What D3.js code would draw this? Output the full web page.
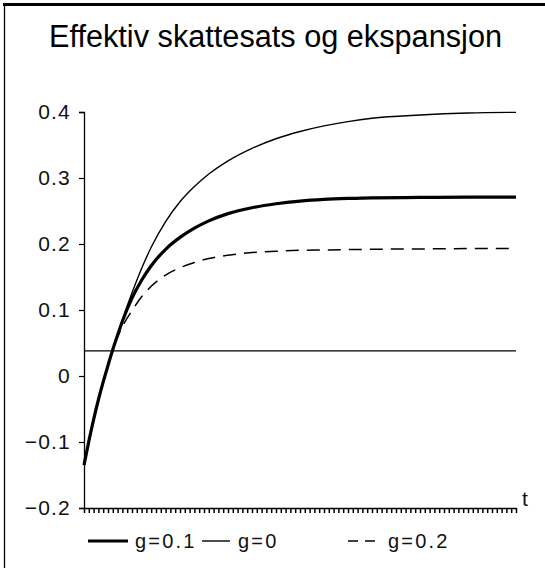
<!DOCTYPE html>
<html><head><meta charset="utf-8">
<script src="https://cdn.jsdelivr.net/npm/d3@7"></script>
<style>
html,body{margin:0;padding:0;background:#fff;}
svg{display:block;}
</style></head>
<body>
<script>
// ---- data ----
const title = "Effektiv skattesats og ekspansjon";
const tValues = [0,1,2,3,4,5,6,7,8,10,12,14,17,20,23,26,30,35,40,45,50,55,60,70,80,90];
const g0   = [-0.135,-0.099,-0.066,-0.036,-0.009,0.016,0.040,0.063,0.085,0.126,0.163,0.195,0.234,0.264,0.287,0.306,0.326,0.345,0.3595,0.3705,0.379,0.3855,0.3905,0.3955,0.3985,0.3995];
const g01  = [-0.135,-0.099,-0.066,-0.036,-0.009,0.016,0.040,0.062,0.083,0.118,0.145,0.167,0.192,0.210,0.224,0.235,0.246,0.255,0.261,0.265,0.2675,0.269,0.270,0.2705,0.271,0.271];
const g02  = [-0.135,-0.099,-0.066,-0.036,-0.009,0.016,0.040,0.059,0.075,0.099,0.120,0.136,0.153,0.164,0.172,0.178,0.183,0.187,0.189,0.1905,0.191,0.1915,0.192,0.1925,0.193,0.193];
const refLevel = 0.038;
const yTicks = [-0.2,-0.1,0,0.1,0.2,0.3,0.4];
const tMax = 90;
const seriesNames = ["g=0.1","g=0","g=0.2"];

const W = 545, H = 568;
const svg = d3.select("body").append("svg").attr("width",W).attr("height",H);

// frame
svg.append("line").attr("x1",3).attr("x2",W).attr("y1",4.5).attr("y2",4.5)
  .attr("stroke","#000").attr("stroke-width",3);
svg.append("line").attr("x1",4.5).attr("x2",4.5).attr("y1",3).attr("y2",H)
  .attr("stroke","#000").attr("stroke-width",1.3);

// title
svg.append("text").attr("x",49).attr("y",47)
  .attr("font-family","Liberation Sans, Arial, sans-serif").attr("font-size",31)
  .attr("textLength",453).attr("lengthAdjust","spacingAndGlyphs")
  .attr("fill","#000").text(title);

const x = d3.scaleLinear().domain([0,tMax]).range([84,516]);
const y = d3.scaleLinear().domain([-0.2,0.4]).range([508,112]);

const fmt = d => d===0 ? "0" : d3.format(".1f")(d);

// y axis
const yAx = svg.append("g").attr("transform","translate(84,0)")
  .call(d3.axisLeft(y).tickValues(yTicks).tickFormat(fmt).tickSize(5).tickPadding(8));
yAx.select(".domain").attr("stroke","#000").attr("stroke-width",1.3);
yAx.selectAll(".tick line").attr("stroke","#000").attr("stroke-width",1.2);
yAx.selectAll(".tick text").attr("font-family","Liberation Sans, Arial, sans-serif")
  .attr("font-size",21).attr("letter-spacing",1.2).attr("fill","#111");

// x axis
const xAx = svg.append("g").attr("transform","translate(0,508)")
  .call(d3.axisBottom(x).tickValues(d3.range(0,tMax+1)).tickFormat("").tickSize(5).tickSizeOuter(0));
xAx.select(".domain").attr("stroke","#000").attr("stroke-width",1.4);
xAx.selectAll(".tick line").attr("stroke","#000").attr("stroke-width",1.5);
svg.append("text").attr("x",522).attr("y",506)
  .attr("font-family","Liberation Sans, Arial, sans-serif").attr("font-size",21).attr("fill","#111").text("t");

// reference horizontal line
svg.append("line").attr("x1",x(0)).attr("x2",x(tMax)).attr("y1",y(refLevel)).attr("y2",y(refLevel))
  .attr("stroke","#000").attr("stroke-width",1.3);

const line = d3.line().x((d,i)=>x(tValues[i])).y(d=>y(d)).curve(d3.curveMonotoneX);
const styles = [
  {data:g01, w:3.2, dash:null},
  {data:g0,  w:1.4, dash:null},
  {data:g02, w:1.5, dash:"13,8"}
];
styles.forEach(s=>{
  svg.append("path").attr("d",line(s.data)).attr("fill","none").attr("stroke","#000")
    .attr("stroke-width",s.w).attr("stroke-dasharray",s.dash);
});

// legend
const legend = [
  {x1:88,x2:128,tx:135,w:3.2,dash:null},
  {x1:202,x2:230,tx:238,w:1.4,dash:null},
  {x1:348,x2:376,tx:388,w:1.5,dash:"10,7"}
];
legend.forEach((l,i)=>{
  svg.append("line").attr("x1",l.x1).attr("x2",l.x2).attr("y1",541).attr("y2",541)
    .attr("stroke","#000").attr("stroke-width",l.w).attr("stroke-dasharray",l.dash);
  svg.append("text").attr("x",l.tx).attr("y",548)
    .attr("font-family","Liberation Sans, Arial, sans-serif").attr("font-size",20)
    .attr("letter-spacing",2.2).attr("fill","#111").text(seriesNames[i]);
});
</script>
</body></html>
